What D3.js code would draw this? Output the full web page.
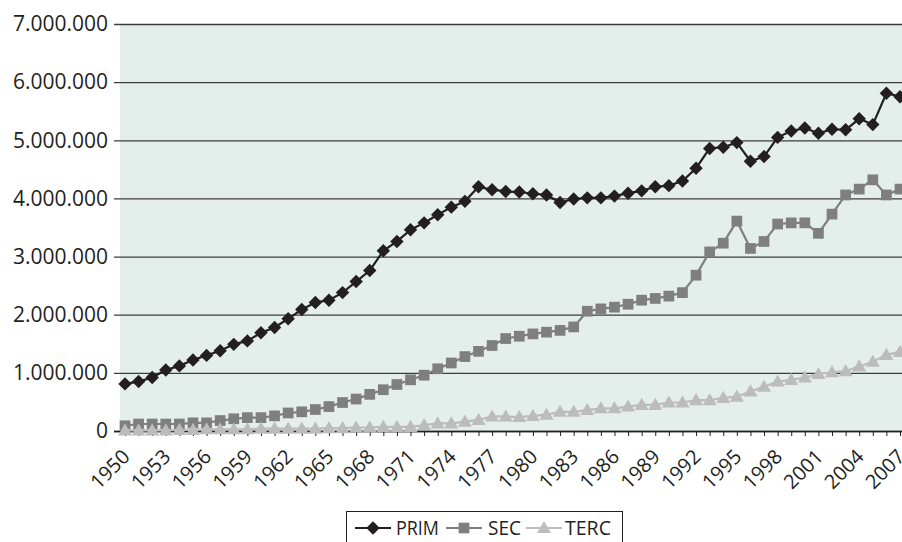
<!DOCTYPE html>
<html>
<head>
<meta charset="utf-8">
<script src="https://cdn.jsdelivr.net/npm/d3@7.9.0/dist/d3.min.js"></script>
<style>
  body { margin: 0; background: #fff; }
  svg { display: block; font-family: "Open Sans", "Noto Sans", sans-serif; }
</style>
</head>
<body>
<svg width="902" height="542"></svg>
<script>
// years 1950-2007
const years = d3.range(1950, 2008);

// values in millions
const prim = [
  0.81, 0.85, 0.92, 1.05, 1.12, 1.22, 1.30, 1.38, 1.49, 1.55,
  1.69, 1.78, 1.93, 2.09, 2.21, 2.25, 2.38, 2.57, 2.76, 3.10,
  3.26, 3.46, 3.58, 3.72, 3.85, 3.95, 4.20, 4.15, 4.12, 4.11,
  4.08, 4.06, 3.93, 3.99, 4.01, 4.01, 4.04, 4.09, 4.13, 4.20,
  4.22, 4.30, 4.52, 4.86, 4.88, 4.96, 4.64, 4.72, 5.05, 5.16,
  5.21, 5.12, 5.19, 5.18, 5.37, 5.27, 5.81, 5.75
];
const sec = [
  0.09, 0.12, 0.12, 0.12, 0.12, 0.14, 0.14, 0.18, 0.21, 0.23,
  0.23, 0.26, 0.31, 0.33, 0.37, 0.42, 0.49, 0.55, 0.63, 0.71,
  0.80, 0.88, 0.96, 1.07, 1.17, 1.28, 1.37, 1.47, 1.59, 1.63,
  1.67, 1.70, 1.73, 1.79, 2.06, 2.10, 2.13, 2.18, 2.25, 2.28,
  2.32, 2.38, 2.68, 3.08, 3.23, 3.61, 3.14, 3.26, 3.56, 3.58,
  3.58, 3.40, 3.73, 4.06, 4.16, 4.32, 4.06, 4.16
];
const terc = [
  0.01, 0.01, 0.01, 0.01, 0.02, 0.02, 0.03, 0.03, 0.03, 0.03,
  0.04, 0.04, 0.04, 0.04, 0.04, 0.05, 0.05, 0.06, 0.06, 0.07,
  0.07, 0.07, 0.10, 0.13, 0.13, 0.16, 0.19, 0.25, 0.25, 0.24,
  0.26, 0.28, 0.33, 0.33, 0.36, 0.39, 0.39, 0.42, 0.45, 0.45,
  0.49, 0.49, 0.53, 0.53, 0.57, 0.59, 0.68, 0.76, 0.85, 0.88,
  0.92, 0.98, 1.01, 1.03, 1.11, 1.19, 1.31, 1.36
];
const yTicks = [0, 1e6, 2e6, 3e6, 4e6, 5e6, 6e6, 7e6];
const seriesNames = ["PRIM", "SEC", "TERC"];

const svg = d3.select("svg");
const plotLeft = 120, plotRight = 902, plotTop = 24, plotBottom = 431;

const x = d3.scalePoint().domain(years).range([125, 900]);
const y = d3.scaleLinear().domain([0, 7e6]).range([plotBottom, plotTop]);

const locale = d3.formatLocale({ decimal: ",", thousands: ".", grouping: [3], currency: ["", ""] });
const fmt = locale.format(",");

// plot background
svg.append("rect")
  .attr("x", plotLeft).attr("y", plotTop)
  .attr("width", plotRight - plotLeft).attr("height", plotBottom - plotTop)
  .attr("fill", "#e4eeeb");

// horizontal gridlines + y labels
const yAxis = d3.axisLeft(y).tickValues(yTicks).tickFormat(fmt).tickSize(0).tickPadding(6);
const gy = svg.append("g").attr("transform", `translate(${114},0)`).call(yAxis);
gy.select(".domain").remove();
gy.selectAll(".tick line")
  .attr("x1", 0)
  .attr("x2", plotRight - 114)
  .attr("stroke", "#3c3c3c")
  .attr("stroke-width", 1.3);
gy.selectAll(".tick text")
  .attr("x", -6)
  .attr("font-size", 21)
  .attr("font-family", "Open Sans")
  .attr("fill", "#231f20");

// x axis
const xAxis = d3.axisBottom(x).tickSize(5).tickFormat("");
const gx = svg.append("g").attr("transform", `translate(0,${plotBottom})`).call(xAxis);
gx.select(".domain").attr("d", `M114,0.5H${plotRight}`).attr("stroke", "#231f20").attr("stroke-width", 1.3);
gx.selectAll(".tick line").attr("stroke", "#231f20");

// rotated year labels every 3 years
svg.append("g").selectAll("text")
  .data(years.filter(d => (d - 1950) % 3 === 0))
  .join("text")
  .attr("transform", d => `translate(${x(d) + 6},${plotBottom + 27}) rotate(-45)`)
  .attr("text-anchor", "end")
  .attr("font-size", 20)
  .attr("fill", "#231f20")
  .text(d => d);

// series
const series = [
  { name: seriesNames[0], values: prim, color: "#231f20", symbol: "diamond" },
  { name: seriesNames[1], values: sec, color: "#7f7f7f", symbol: "square" },
  { name: seriesNames[2], values: terc, color: "#bcbcbc", symbol: "triangle" }
];

function markerPath(kind) {
  if (kind === "diamond") return d3.symbol(d3.symbolSquare, 90)();
  if (kind === "square") return d3.symbol(d3.symbolSquare, 115)();
  return d3.symbol(d3.symbolTriangle, 85)();
}
function markerTransform(kind, px, py) {
  if (kind === "diamond") return `translate(${px},${py}) rotate(45)`;
  if (kind === "triangle") return `translate(${px},${py + 1})`;
  return `translate(${px},${py})`;
}

const line = d3.line()
  .x((d, i) => x(years[i]))
  .y(d => y(d * 1e6));

series.forEach(s => {
  svg.append("path")
    .attr("d", line(s.values))
    .attr("fill", "none")
    .attr("stroke", s.color)
    .attr("stroke-width", 2.2);
  svg.append("g").selectAll("path")
    .data(s.values)
    .join("path")
    .attr("d", markerPath(s.symbol))
    .attr("transform", (d, i) => markerTransform(s.symbol, x(years[i]), y(d * 1e6)))
    .attr("fill", s.color);
});

// legend
const legend = svg.append("g");
legend.append("rect")
  .attr("x", 346.5).attr("y", 511.5)
  .attr("width", 276).attr("height", 40)
  .attr("fill", "#fff")
  .attr("stroke", "#231f20")
  .attr("stroke-width", 1);

const legendItems = [
  { s: series[0], x1: 355, x2: 391, tx: 396, tw: 43 },
  { s: series[1], x1: 446, x2: 482, tx: 488, tw: 33 },
  { s: series[2], x1: 526, x2: 562, tx: 565, tw: 46 }
];
legendItems.forEach(it => {
  const cy = 528;
  legend.append("line")
    .attr("x1", it.x1).attr("x2", it.x2)
    .attr("y1", cy).attr("y2", cy)
    .attr("stroke", it.s.color).attr("stroke-width", 2);
  legend.append("path")
    .attr("d", markerPath(it.s.symbol))
    .attr("transform", markerTransform(it.s.symbol, (it.x1 + it.x2) / 2, cy))
    .attr("fill", it.s.color);
  legend.append("text")
    .attr("x", it.tx).attr("y", cy + 7)
    .attr("font-size", 20)
    .attr("textLength", it.tw)
    .attr("lengthAdjust", "spacingAndGlyphs")
    .attr("fill", "#231f20")
    .text(it.s.name);
});
</script>
</body>
</html>
